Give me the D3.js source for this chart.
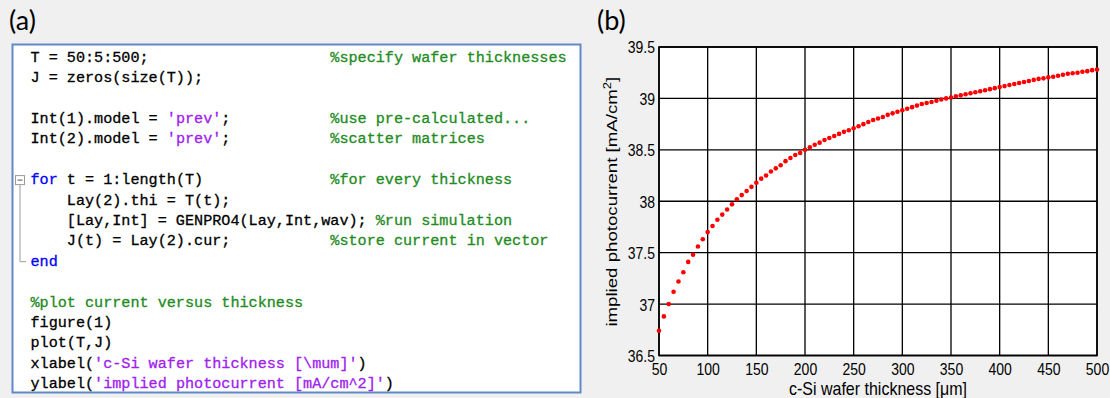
<!DOCTYPE html>
<html><head><meta charset="utf-8">
<script src="https://cdn.jsdelivr.net/npm/d3@7/dist/d3.min.js"></script>
<style>
html,body{margin:0;padding:0;background:#f0f0f0;}
svg{display:block;}
</style></head>
<body>
<script>
// ---- chart data ----
const thickness = d3.range(50, 501, 5); // T = 50:5:500 (wafer thickness, µm)
const current = [
  36.74, 36.88, 37.00, 37.12, 37.22, 37.31, 37.41, 37.48, 37.56, 37.63,
  37.70, 37.76, 37.82, 37.87, 37.92, 37.97, 38.02, 38.06, 38.10, 38.14,
  38.18, 38.22, 38.25, 38.29, 38.32, 38.35, 38.39, 38.42, 38.45, 38.47,
  38.50, 38.525, 38.55, 38.57, 38.595, 38.615, 38.635, 38.655, 38.675, 38.69,
  38.71, 38.73, 38.75, 38.77, 38.79, 38.805, 38.82, 38.84, 38.855, 38.87,
  38.885, 38.90, 38.915, 38.93, 38.945, 38.955, 38.965, 38.978, 38.99, 39.00,
  39.008, 39.02, 39.03, 39.04, 39.05, 39.06, 39.07, 39.08, 39.09, 39.10,
  39.11, 39.12, 39.13, 39.14, 39.15, 39.16, 39.17, 39.18, 39.19, 39.195,
  39.205, 39.21, 39.22, 39.23, 39.24, 39.245, 39.25, 39.26, 39.265, 39.275,
  39.28
];
const xTicks = [50, 100, 150, 200, 250, 300, 350, 400, 450, 500];
const yTicks = [36.5, 37, 37.5, 38, 38.5, 39, 39.5];
const xLabel = "c-Si wafer thickness [\u03bcm]";
const yLabel = "implied photocurrent [mA/cm";

// ---- code listing (panel a) ----
const codeLines = [
  [["T = 50:5:500;                    ", "k"], ["%specify wafer thicknesses", "c"]],
  [["J = zeros(size(T));", "k"]],
  [],
  [["Int(1).model = ", "k"], ["'prev'", "s"], [";           ", "k"], ["%use pre-calculated...", "c"]],
  [["Int(2).model = ", "k"], ["'prev'", "s"], [";           ", "k"], ["%scatter matrices", "c"]],
  [],
  [["for", "b"], [" t = 1:length(T)              ", "k"], ["%for every thickness", "c"]],
  [["    Lay(2).thi = T(t);", "k"]],
  [["    [Lay,Int] = GENPRO4(Lay,Int,wav); ", "k"], ["%run simulation", "c"]],
  [["    J(t) = Lay(2).cur;           ", "k"], ["%store current in vector", "c"]],
  [["end", "b"]],
  [],
  [["%plot current versus thickness", "c"]],
  [["figure(1)", "k"]],
  [["plot(T,J)", "k"]],
  [["xlabel(", "k"], ["'c-Si wafer thickness [\\mum]'", "s"], [")", "k"]],
  [["ylabel(", "k"], ["'implied photocurrent [mA/cm^2]'", "s"], [")", "k"]]
];
const codeColors = {k: "#000000", c: "#228b22", s: "#a020f0", b: "#0000ff"};

const W = 1110, H = 398;
const svg = d3.select("body").append("svg").attr("width", W).attr("height", H);
svg.append("rect").attr("width", W).attr("height", H).attr("fill", "#f0f0f0");

const sans = "'Liberation Sans', Arial, sans-serif";
const panelFont = "Lato, 'Open Sans', sans-serif";

// ---------- Panel (a) ----------
svg.append("text").attr("x", 9).attr("y", 30).text("(a)")
  .attr("font-family", panelFont).attr("font-size", 27).attr("fill", "#000");

svg.append("rect").attr("x", 12.5).attr("y", 44.5).attr("width", 568).attr("height", 348)
  .attr("fill", "#ffffff").attr("stroke", "#5f8ac6").attr("stroke-width", 2);

const code = svg.append("g");
const lineY0 = 57.7, lineStep = 20.4, charX0 = 30.5;
codeLines.forEach((segs, i) => {
  const t = code.append("text")
    .attr("x", charX0)
    .attr("y", lineY0 + i * lineStep)
    .attr("dominant-baseline", "central")
    .attr("font-family", "'Liberation Mono', 'DejaVu Sans Mono', monospace")
    .attr("font-size", 15.15)
    .style("white-space", "pre");
  segs.forEach(([txt, kind]) => {
    t.append("tspan")
      .attr("fill", codeColors[kind]).attr("stroke", codeColors[kind]).attr("stroke-width", 0.3)
      .text(txt);
  });
});
// fold markers
const foldTop = lineY0 + 6 * lineStep, foldEnd = lineY0 + 10 * lineStep;
code.append("rect").attr("x", 15.5).attr("y", foldTop - 4.5).attr("width", 9).attr("height", 9)
  .attr("fill", "#fff").attr("stroke", "#9a9a9a").attr("stroke-width", 1);
code.append("line").attr("x1", 17.5).attr("x2", 22.5).attr("y1", foldTop).attr("y2", foldTop)
  .attr("stroke", "#555").attr("stroke-width", 1);
code.append("path")
  .attr("d", `M20,${foldTop + 5}V${foldEnd}H26`)
  .attr("fill", "none").attr("stroke", "#9a9a9a").attr("stroke-width", 1);

// ---------- Panel (b) ----------
svg.append("text").attr("x", 597).attr("y", 30).text("(b)")
  .attr("font-family", panelFont).attr("font-size", 27).attr("fill", "#000");

const x = d3.scaleLinear().domain([50, 500]).range([659, 1097]);
const y = d3.scaleLinear().domain([36.5, 39.5]).range([355.5, 47]);

const plot = svg.append("g");
plot.append("rect").attr("x", x(50)).attr("y", y(39.5))
  .attr("width", x(500) - x(50)).attr("height", y(36.5) - y(39.5)).attr("fill", "#fff");

// grid
plot.append("g").selectAll("line").data(xTicks).join("line")
  .attr("x1", d => x(d)).attr("x2", d => x(d)).attr("y1", y(36.5)).attr("y2", y(39.5))
  .attr("stroke", "#000").attr("stroke-width", 1.3);
plot.append("g").selectAll("line").data(yTicks).join("line")
  .attr("y1", d => y(d)).attr("y2", d => y(d)).attr("x1", x(50)).attr("x2", x(500))
  .attr("stroke", "#000").attr("stroke-width", 1.3);

// axes via d3
const fmt = d => String(d);
const xAxis = plot.append("g").attr("transform", `translate(0,${y(36.5)})`)
  .call(d3.axisBottom(x).tickValues(xTicks).tickFormat(fmt).tickSize(0).tickPadding(0));
const yAxis = plot.append("g").attr("transform", `translate(${x(50)},0)`)
  .call(d3.axisLeft(y).tickValues(yTicks).tickFormat(fmt).tickSize(0).tickPadding(0));
[xAxis, yAxis].forEach(a => {
  a.select(".domain").remove();
  a.selectAll("text").attr("font-family", sans)
    .attr("font-size", 14).attr("fill", "#000");
});
// slightly tall glyphs as in the reference
xAxis.selectAll("text").attr("x", null).attr("y", null).attr("dy", null)
  .attr("transform", "translate(0,19) scale(1,1.15)");
yAxis.selectAll("text").attr("x", null).attr("dy", null)
  .attr("dominant-baseline", "central")
  .attr("transform", "translate(-4,0) scale(1,1.2)");

// box
plot.append("rect").attr("x", x(50)).attr("y", y(39.5))
  .attr("width", x(500) - x(50)).attr("height", y(36.5) - y(39.5))
  .attr("fill", "none").attr("stroke", "#000").attr("stroke-width", 1.6);

// data points
plot.append("g").selectAll("circle").data(thickness.map((t, i) => [t, current[i]])).join("circle")
  .attr("cx", d => x(d[0])).attr("cy", d => y(d[1])).attr("r", 2.3).attr("fill", "#ff0000");

// labels
svg.append("text")
  .attr("transform", `translate(${(x(50) + x(500)) / 2},395) scale(1,1.15)`)
  .attr("text-anchor", "middle")
  .attr("font-family", sans).attr("font-size", 16).attr("fill", "#000")
  .text(xLabel);
const yl = svg.append("text")
  .attr("text-anchor", "middle")
  .attr("font-family", sans).attr("font-size", 15).attr("fill", "#000");
yl.append("tspan").text(yLabel);
yl.append("tspan").attr("dy", -6).attr("font-size", 10.5).text("2");
yl.append("tspan").attr("dy", 6).text("]");
const ylLen = yl.node().getComputedTextLength();
const ylScale = 250 / ylLen;
yl.attr("transform", `translate(617,201.7) rotate(-90) scale(${ylScale},1)`);
</script>
</body></html>
